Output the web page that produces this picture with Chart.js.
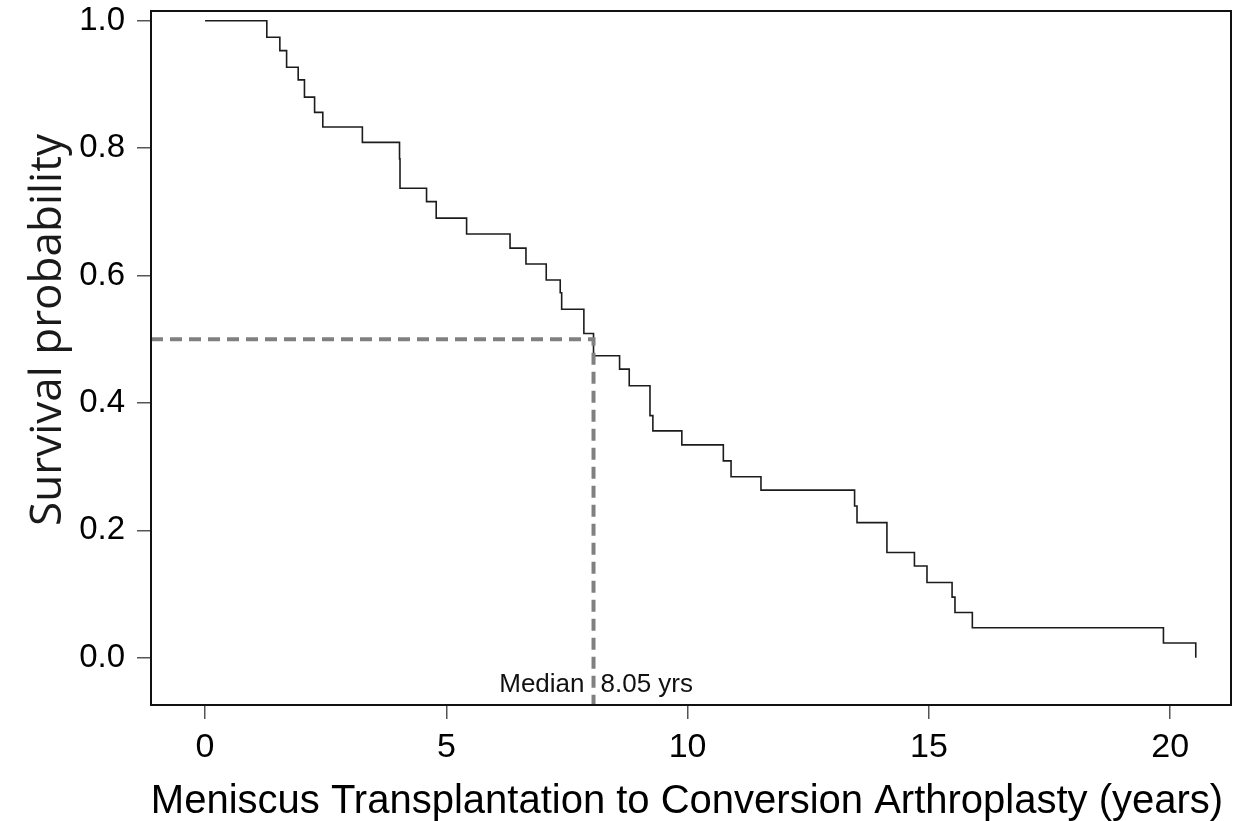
<!DOCTYPE html>
<html><head><meta charset="utf-8">
<script src="https://cdn.jsdelivr.net/npm/chart.js@4.4.1/dist/chart.umd.min.js"></script>
<style>html,body{margin:0;padding:0;background:#fff;} #wrap{width:1237px;height:821px;position:relative;}</style>
</head><body><div id="wrap"><canvas id="c" width="1237" height="821"></canvas></div>
<script>
// Kaplan-Meier step data (time in years, survival after the event)
const eventTimes = [0, 1.28, 1.55, 1.69, 1.93, 2.06, 2.27, 2.44, 3.26, 4.03, 4.04, 4.59, 4.79, 5.42, 6.32, 6.65, 7.07, 7.36, 7.39, 7.85, 8.05, 8.59, 8.79, 9.22, 9.28, 9.88, 10.74, 10.90, 11.52, 13.46, 13.51, 14.13, 14.70, 14.96, 15.48, 15.54, 15.90, 19.86, 20.53];
const survival = [1.0, 0.974, 0.953, 0.927, 0.907, 0.880, 0.856, 0.833, 0.809, 0.783, 0.737, 0.716, 0.690, 0.665, 0.643, 0.618, 0.593, 0.573, 0.547, 0.509, 0.474, 0.453, 0.427, 0.380, 0.356, 0.334, 0.309, 0.284, 0.263, 0.238, 0.212, 0.165, 0.144, 0.118, 0.095, 0.071, 0.047, 0.023, 0.0];
const xTicks = [0, 5, 10, 15, 20];
const yTicks = [0.0, 0.2, 0.4, 0.6, 0.8, 1.0];
const medianTime = 8.05;
const medianSurvival = 0.5;
const medianLabelLeft = 'Median';
const medianLabelRight = '8.05 yrs';
const xLimits = [-1.12, 21.26];
const yLimits = [-0.0743, 1.0152];
const xTitle = 'Meniscus Transplantation to Conversion Arthroplasty (years)';
const yTitle = 'Survival probability';

const kmPoints = eventTimes.map((t, i) => ({x: t, y: survival[i]}));
const medianPoints = [
  {x: xLimits[0], y: medianSurvival},
  {x: medianTime, y: medianSurvival},
  {x: medianTime, y: yLimits[0]}
];

const annotPlugin = {
  id: 'annot',
  afterDatasetsDraw(chart) {
    const {ctx, chartArea: a, scales} = chart;
    ctx.save();
    ctx.strokeStyle = '#111';
    ctx.lineWidth = 2;
    ctx.strokeRect(a.left, a.top, a.right - a.left, a.bottom - a.top);
    // median label
    const xm = scales.x.getPixelForValue(medianTime);
    ctx.fillStyle = '#111';
    ctx.font = '26px "Liberation Sans", Arial, sans-serif';
    ctx.textBaseline = 'alphabetic';
    ctx.textAlign = 'right';
    ctx.fillText(medianLabelLeft, xm - 9, a.bottom - 13);
    ctx.textAlign = 'left';
    ctx.fillText(medianLabelRight, xm + 7, a.bottom - 13);
    ctx.restore();
  },
  afterDraw(chart) {
    const {ctx, chartArea: a} = chart;
    ctx.save();
    ctx.fillStyle = '#000';
    ctx.font = '40px "Liberation Sans", Arial, sans-serif';
    ctx.textAlign = 'center';
    ctx.textBaseline = 'alphabetic';
    ctx.fillText(xTitle, (a.left + a.right) / 2 - 4, a.bottom + 108);
    ctx.translate(61, a.top + 319);
    ctx.rotate(-Math.PI / 2);
    ctx.fillStyle = '#1a1a1a';
    ctx.font = '44px "Open Sans", "Noto Sans", sans-serif';
    ctx.fillText(yTitle, 0, 0);
    ctx.restore();
  }
};

new Chart(document.getElementById('c'), {
  type: 'line',
  data: {
    datasets: [
      {
        label: 'Median',
        data: medianPoints,
        borderColor: '#808080',
        borderWidth: 4,
        borderDash: [12, 7],
        pointRadius: 0,
        fill: false,
        tension: 0
      },
      {
        label: 'Survival',
        data: kmPoints,
        stepped: 'before',
        borderColor: '#1c1c1c',
        borderWidth: 1.6,
        pointRadius: 0,
        fill: false
      }
    ]
  },
  options: {
    responsive: false,
    animation: false,
    events: [],
    layout: {padding: {top: 11, right: 6, left: 0, bottom: 0}},
    plugins: {legend: {display: false}, tooltip: {enabled: false}, title: {display: false}},
    scales: {
      x: {
        type: 'linear',
        min: xLimits[0], max: xLimits[1],
        afterBuildTicks: s => { s.ticks = xTicks.map(v => ({value: v})); },
        afterFit: s => { s.height = 116; s.paddingLeft = 0; s.paddingRight = 0; },
        grid: {drawOnChartArea: false, drawTicks: true, tickLength: 14, color: '#555', lineWidth: 1.5},
        border: {display: false},
        ticks: {
          padding: 8, autoSkip: false, maxRotation: 0, color: '#000',
          font: {family: '"Liberation Sans", Arial, sans-serif', size: 34},
          callback: v => String(v)
        },
        title: {display: false}
      },
      y: {
        type: 'linear',
        min: yLimits[0], max: yLimits[1],
        afterBuildTicks: s => { s.ticks = yTicks.map(v => ({value: v})); },
        afterFit: s => { s.width = 151; s.paddingTop = 0; s.paddingBottom = 0; },
        grid: {drawOnChartArea: false, drawTicks: true, tickLength: 14, color: '#555', lineWidth: 1.5},
        border: {display: false},
        ticks: {
          padding: 12, color: '#000',
          font: {family: '"Liberation Sans", Arial, sans-serif', size: 33},
          callback: v => Number(v).toFixed(1)
        },
        title: {display: false}
      }
    }
  },
  plugins: [annotPlugin]
});
</script>
</body></html>
